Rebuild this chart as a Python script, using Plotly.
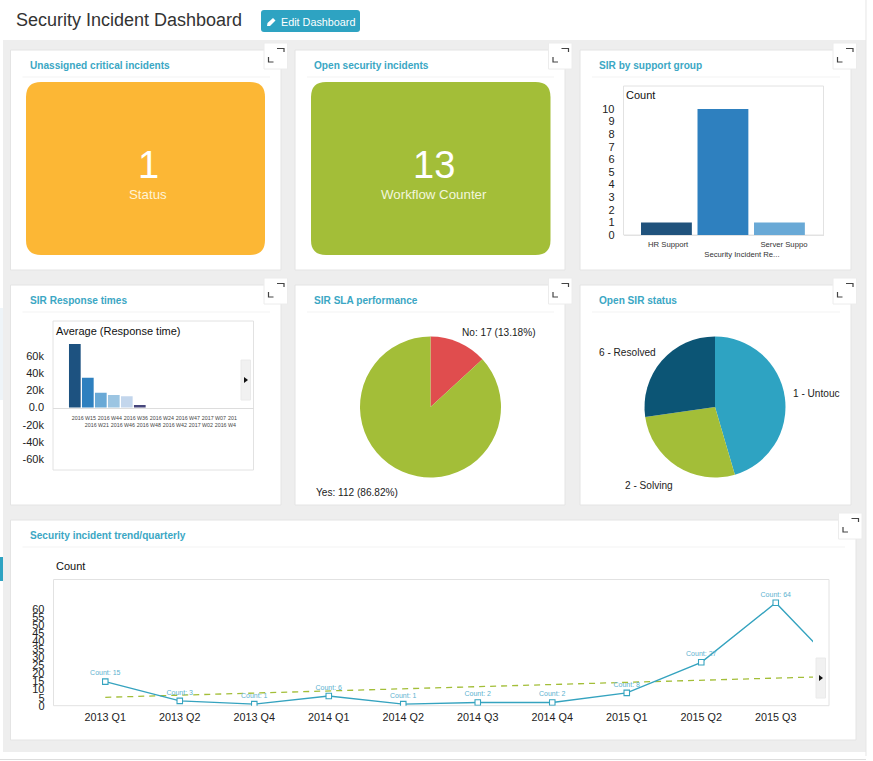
import plotly.graph_objects as go

W, H = 873, 761
FONT = "Liberation Sans"

# data
tile_values = ["1", "13"]
tile_labels = ["Status", "Workflow Counter"]

group_labels = ["HR Support", "<br>Security Incident Re...", "Server Suppo"]
group_counts = [1, 10, 1]
group_colors = ["#20527c", "#2e80bf", "#69a9d6"]

week_labels = ["2016 W15", "<br>2016 W21", "2016 W44", "<br>2016 W46", "2016 W36", "<br>2016 W48",
               "2016 W24", "<br>2016 W42", "2016 W47", "<br>2017 W02", "2017 W07",
               "<br>2016 W4\u00a0\u00a0", "201" + "\u00a0" * 10]
week_times = [73800, 34700, 17200, 14500, 13000, 2900, 0, 0, 0, 0, 0, 0, 0]
week_colors = ["#1d5280", "#2e80bf", "#69a9d6", "#9cc5e2", "#c3d6ec", "#46467c",
               "#1d5280", "#1d5280", "#1d5280", "#1d5280", "#1d5280", "#1d5280", "#1d5280"]
resp_ticks = [-60000, -40000, -20000, 0, 20000, 40000, 60000]
resp_ticktext = ["-60k", "-40k", "-20k", "0.0", "20k", "40k", "60k"]

sla_labels = ["No", "Yes"]
sla_counts = [17, 112]
sla_pct = ["13.18", "86.82"]
sla_colors = ["#e04d4e", "#a3be38"]

status_labels = ["1 - Untouc", "2 - Solving", "6 - Resolved"]
status_counts = [5, 3, 3]
status_colors = ["#2ea3c2", "#a3be38", "#0c5575"]

quarters = ["2013 Q1", "2013 Q2", "2013 Q4", "2014 Q1", "2014 Q2", "2014 Q3",
            "2014 Q4", "2015 Q1", "2015 Q2", "2015 Q3", "2015 Q4"]
quarter_counts = [15, 3, 1, 6, 1, 2, 2, 8, 27, 64, 16]
quarter_trend = [5.2, 6.5, 7.9, 9.2, 10.5, 11.9, 13.2, 14.5, 15.9, 17.2, 18.5]
count_ticks = [0, 5, 10, 15, 20, 25, 30, 35, 40, 45, 50, 55, 60]


def fx(p):
    return p / W


def fy(p):
    return 1 - p / H


def dom_x(a, b):
    return [fx(a), fx(b)]


def dom_y(top, bottom):
    return [fy(bottom), fy(top)]


shapes = []
annos = []


def rect(x0, y0, x1, y1, fill, line=None, layer="below"):
    shapes.append(dict(type="rect", xref="paper", yref="paper", x0=fx(x0), x1=fx(x1), y0=fy(y0), y1=fy(y1),
                       fillcolor=fill, line=dict(color=line or "rgba(0,0,0,0)", width=1), layer=layer))


def path(points, color=None, fill=None, width=1.5, close=False, layer="below"):
    d = "M" + " L".join(f"{fx(x):.5f},{fy(y):.5f}" for x, y in points) + (" Z" if close else "")
    shapes.append(dict(type="path", xref="paper", yref="paper", path=d, fillcolor=fill or "rgba(0,0,0,0)",
                       line=dict(color=color or "rgba(0,0,0,0)", width=width), layer=layer))


def rounded(x0, y0, x1, y1, r, fill):
    d = (f"M{fx(x0 + r)},{fy(y0)} L{fx(x1 - r)},{fy(y0)} Q{fx(x1)},{fy(y0)} {fx(x1)},{fy(y0 + r)} "
         f"L{fx(x1)},{fy(y1 - r)} Q{fx(x1)},{fy(y1)} {fx(x1 - r)},{fy(y1)} "
         f"L{fx(x0 + r)},{fy(y1)} Q{fx(x0)},{fy(y1)} {fx(x0)},{fy(y1 - r)} "
         f"L{fx(x0)},{fy(y0 + r)} Q{fx(x0)},{fy(y0)} {fx(x0 + r)},{fy(y0)} Z")
    shapes.append(dict(type="path", xref="paper", yref="paper", path=d, fillcolor=fill,
                       line=dict(width=0), layer="below"))


def text(x, y, s, size=12, color="#222222", anchor="left", bold=False):
    # annotations carry about 2px of padding on the left
    x = x - 2 if anchor == "left" else x
    annos.append(dict(xref="paper", yref="paper", x=fx(x), y=fy(y), text=f"<b>{s}</b>" if bold else s,
                      showarrow=False, xanchor=anchor, yanchor="middle",
                      font=dict(family=FONT, size=size, color=color)))


def card(x0, y0, x1, y1, title):
    rect(x0, y0, x1, y1, "white", "#e4e4e4")
    path([(x0 + 12, y0 + 27), (x1 - 11, y0 + 27)], color="#f3f3f3", width=1)
    text(x0 + 19, y0 + 15.5, title, size=10.1, color="#3ba7c4", bold=True)


def expand(x, y):
    rect(x, y, x + 23.5, y + 26, "white", "#ececec")
    path([(x + 13, y + 5.5), (x + 20, y + 5.5), (x + 20, y + 9)], color="#444444", width=1.2)
    path([(x + 4.5, y + 14), (x + 4.5, y + 19), (x + 9.5, y + 19)], color="#444444", width=1.2)


def nav(x0, y0):
    rect(x0, y0, x0 + 9.5, y0 + 40, "#f1f1f1", "#eaeaea", layer="above")
    path([(x0 + 3, y0 + 17), (x0 + 7, y0 + 20), (x0 + 3, y0 + 23)], fill="#111111", width=0, close=True, layer="above")


# page background
rect(0, 0, W, H, "white")
rect(3, 40, 866, 752, "#eeeeee")
rect(0, 308, 3, 400, "#eef4f8")
rect(0, 557, 3, 581, "#2ea3c2")
path([(0, 759.5), (866, 759.5)], color="#dddddd", width=1)
path([(866, 0), (866, 756)], color="#e6e6e6", width=1)

text(16, 19.5, "Security Incident Dashboard", size=18, color="#333333")
rounded(261, 10, 360, 32, 3, "#2ea3c2")
path([(267, 26), (267.5, 23), (273, 18), (275.5, 20.5), (270, 26)], fill="white", width=0, close=True)
text(280.5, 21.5, "Edit Dashboard", size=10.8, color="white")

card(10.5, 50, 281, 270, "Unassigned critical incidents")
card(295, 50, 565, 270, "Open security incidents")
card(580, 50, 851, 270, "SIR by support group")
card(10.5, 285, 281, 505, "SIR Response times")
card(295, 285, 565, 505, "SIR SLA performance")
card(580, 285, 851, 505, "Open SIR status")
card(10.5, 520, 856, 740, "Security incident trend/quarterly")

expand(264, 43)
expand(548.5, 43)
expand(833, 43)
expand(264, 278)
expand(548.5, 278)
expand(833, 278)
expand(838.5, 513)

# number tiles
rounded(26, 82, 265, 255, 15, "#fcb735")
rounded(311, 82, 550.5, 255, 15, "#a3be38")
text(148, 165, tile_values[0], size=38, color="white", anchor="center")
text(148, 195, tile_labels[0], size=13.3, color="#fff3d6", anchor="center")
text(434, 165, tile_values[1], size=38, color="white", anchor="center")
text(434, 195, tile_labels[1], size=13.3, color="#f2f6dd", anchor="center")

# chart frames
rect(623.5, 86, 823.5, 235, "rgba(0,0,0,0)", "#e2e2e2")
rect(53, 321, 253.5, 470, "rgba(0,0,0,0)", "#e2e2e2")
rect(53.5, 579.5, 829, 705.7, "rgba(0,0,0,0)", "#e2e2e2")
text(625.5, 95, "Count", size=11, color="#111111")
text(56, 330.5, "Average (Response time)", size=11, color="#111111")
text(56, 565.5, "Count", size=11, color="#111111")
nav(241, 360)
nav(816, 658)

# pie labels
text(462, 332.5, f"{sla_labels[0]}: {sla_counts[0]} ({sla_pct[0]}%)", size=10.1)
text(315.5, 492, f"{sla_labels[1]}: {sla_counts[1]} ({sla_pct[1]}%)", size=10.1)
text(793, 393, status_labels[0], size=10.1)
text(625, 485.5, status_labels[1], size=10.1)
text(599, 352.5, status_labels[2], size=10.1)

tick_font = dict(family=FONT, size=11, color="#222222")
fig = go.Figure()

fig.add_trace(go.Bar(x=list(range(len(group_counts))), y=group_counts, marker=dict(color=group_colors, line_width=0),
                     width=0.9, xaxis="x", yaxis="y"))
fig.add_trace(go.Bar(x=list(range(len(week_times))), y=week_times, marker=dict(color=week_colors, line_width=0),
                     width=0.9, xaxis="x2", yaxis="y2"))
fig.add_trace(go.Pie(labels=sla_labels, values=sla_counts, marker=dict(colors=sla_colors, line_width=0),
                     sort=False, direction="clockwise", rotation=0, textinfo="none",
                     domain=dict(x=dom_x(360, 501), y=dom_y(336.5, 477.5))))
fig.add_trace(go.Pie(labels=status_labels, values=status_counts, marker=dict(colors=status_colors, line_width=0),
                     sort=False, direction="clockwise", rotation=0, textinfo="none",
                     domain=dict(x=dom_x(644.5, 785.5), y=dom_y(336.5, 477.5))))
fig.add_trace(go.Scatter(x=list(range(len(quarters))), y=quarter_trend, mode="lines",
                         line=dict(color="#a3be38", width=1.3, dash="6px,5px"), xaxis="x3", yaxis="y3"))
fig.add_trace(go.Scatter(x=list(range(len(quarters))), y=quarter_counts, mode="lines+markers+text",
                         text=[f"Count: {c}" for c in quarter_counts], textposition="top center",
                         textfont=dict(family=FONT, size=7, color="#5cb2cf"),
                         line=dict(color="#35a3bf", width=1.4),
                         marker=dict(symbol="square", size=5.5, color="white", line=dict(color="#35a3bf", width=1.1)),
                         cliponaxis=True, xaxis="x3", yaxis="y3"))

fig.update_layout(
    template="none",
    width=W, height=H, margin=dict(l=0, r=0, t=0, b=0), autosize=False, showlegend=False,
    paper_bgcolor="white", plot_bgcolor="rgba(0,0,0,0)", shapes=shapes, annotations=annos,
    xaxis=dict(domain=dom_x(623.5, 823.5), range=[-0.76, 2.78], tickmode="array", anchor="y",
               tickvals=[0.03, 1.336, 2.08], ticktext=group_labels, tickangle=0,
               tickfont=dict(family=FONT, size=7.7, color="#333333"), showgrid=False, zeroline=False,
               showline=True, linecolor="#e2e2e2", ticks="", ticklabelstandoff=2),
    yaxis=dict(domain=dom_y(86, 235), range=[0, 11.83], tickmode="array", tickvals=list(range(11)), anchor="x",
               tickfont=tick_font, showgrid=False, zeroline=False, ticks="", ticklabelstandoff=8),
    xaxis2=dict(domain=dom_x(53, 253.5), range=[-1.68, 13.75], tickmode="array",
                tickvals=[i + 0.7 for i in range(len(week_labels))], ticktext=week_labels, tickangle=0,
                tickfont=dict(family=FONT, size=5.3, color="#444444"), showgrid=False, zeroline=False,
                anchor="free", position=fy(407.5), showline=True, linecolor="#dddddd", ticks="",
                ticklabelstandoff=5),
    yaxis2=dict(domain=dom_y(321, 470), range=[-72700, 100600], tickmode="array", tickvals=resp_ticks, anchor="x2",
                ticktext=resp_ticktext, tickfont=tick_font, showgrid=False, zeroline=False, ticks="",
                ticklabelstandoff=8),
    xaxis3=dict(domain=dom_x(53.5, 813), range=[-0.695, 9.5], tickmode="array", anchor="y3",
                tickvals=list(range(len(quarters))), ticktext=quarters, tickangle=0,
                tickfont=dict(family=FONT, size=10.8, color="#222222"), showgrid=False, zeroline=False, ticks="",
                ticklabelstandoff=3),
    yaxis3=dict(domain=dom_y(579.5, 705.7), range=[0, 78.5], tickmode="array", tickvals=count_ticks, anchor="x3",
                tickfont=tick_font, showgrid=False, zeroline=False, ticks="", ticklabelstandoff=8),
)

fig.write_html("out.html", config=dict(displayModeBar=False),
               post_script="document.body.style.margin='0';document.body.style.overflow='hidden';")
